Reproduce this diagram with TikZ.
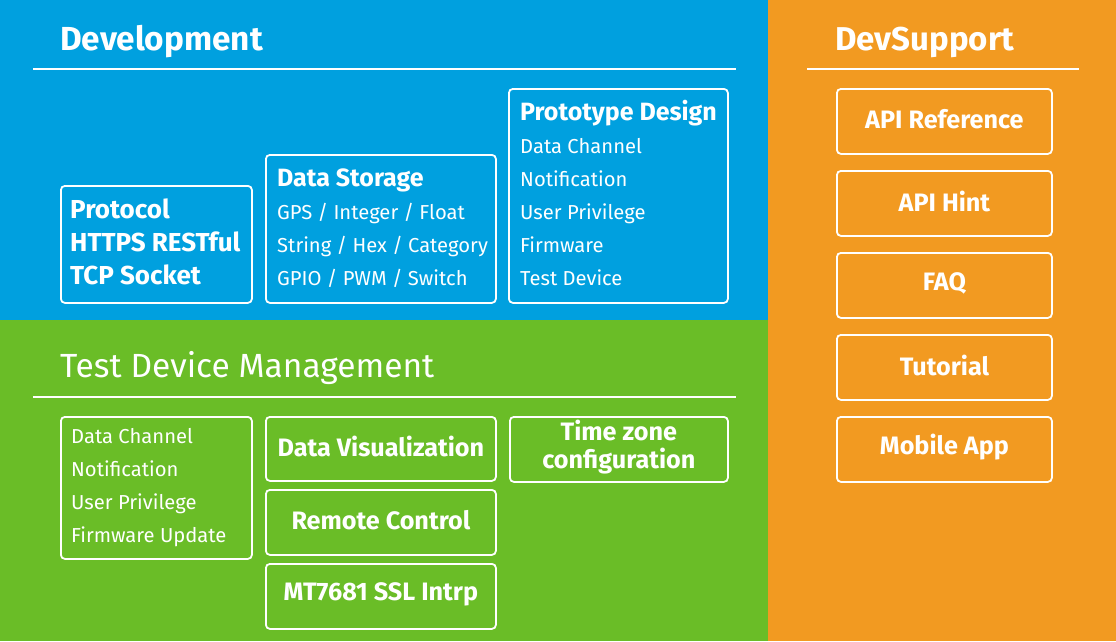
\documentclass[tikz,border=0pt]{standalone}
\usepackage{fontspec}
\setmainfont{Fira Sans}
\definecolor{devblue}{HTML}{00A0DF}
\definecolor{tdmgreen}{HTML}{6ABD27}
\definecolor{suporange}{HTML}{F29A21}
\begin{document}
\begin{tikzpicture}[x=1pt,y=-1pt,
  box/.style={draw=white, line width=1.8pt, rounded corners=4pt, inner sep=0pt, anchor=north west},
  title/.style={text=white, anchor=base west, inner sep=0pt, font=\fontsize{33.3}{38}\selectfont\bfseries},
  ttl/.style={text=white, anchor=base west, inner sep=0pt, font=\fontsize{25}{30}\selectfont\bfseries},
  itm/.style={text=white, anchor=base west, inner sep=0pt, font=\fontsize{20.2}{24}\selectfont},
  ctr/.style={text=white, anchor=center, inner sep=0pt, align=center, yshift=2pt, font=\fontsize{25.2}{28}\selectfont\bfseries},
  rule/.style={draw=white, line width=1.6pt}]
\useasboundingbox (0,0) rectangle (1116,641);
% backgrounds
\fill[devblue] (0,0) rectangle (768,320);
\fill[tdmgreen] (0,320) rectangle (768,641);
\fill[suporange] (768,0) rectangle (1116,641);
% titles
\node[title] (devt) at (60,50) {Development};
\coordinate (devl1) at (33,69);
\coordinate (devl2) at (736,69);
\draw[rule] (devl1) -- (devl2);
\node[title, font=\fontsize{33}{38}\selectfont\bfseries] (supt) at (835,50) {DevSupport};
\coordinate (supl1) at (807,69);
\coordinate (supl2) at (1079,69);
\draw[rule] (supl1) -- (supl2);
\node[title, font=\fontsize{33.5}{38}\selectfont] (tdmt) at (60,377) {Test Device Management};
\coordinate (tdml1) at (33,397);
\coordinate (tdml2) at (736,397);
\draw[rule] (tdml1) -- (tdml2);
% Development boxes
\node[box, minimum width=191pt, minimum height=117pt] (protocol) at (60,185) {};
\node[ttl, font=\fontsize{26}{30}\selectfont\bfseries] (p1) at (70,218) {Protocol};
\node[ttl, font=\fontsize{26}{30}\selectfont\bfseries] (p2) at (70,251) {HTTPS RESTful};
\node[ttl, font=\fontsize{26}{30}\selectfont\bfseries] (p3) at (70,284) {TCP Socket};
\node[box, minimum width=230pt, minimum height=148pt] (storage) at (265,154) {};
\node[ttl] (s0) at (277,186) {Data Storage};
\node[itm] (s1) at (277,219) {GPS / Integer / Float};
\node[itm] (s2) at (277,252) {String / Hex / Category};
\node[itm] (s3) at (277,285) {GPIO / PWM / Switch};
\node[box, minimum width=219pt, minimum height=214pt] (proto) at (508,88) {};
\node[ttl] (d0) at (520,120) {Prototype Design};
\node[itm] (d1) at (520,153) {Data Channel};
\node[itm] (d2) at (520,186) {Notification};
\node[itm] (d3) at (520,219) {User Privilege};
\node[itm] (d4) at (520,252) {Firmware};
\node[itm] (d5) at (520,285) {Test Device};
% Test device management boxes
\node[box, minimum width=191pt, minimum height=142pt] (tdlist) at (60,416) {};
\node[itm] (t1) at (71,443) {Data Channel};
\node[itm] (t2) at (71,476) {Notification};
\node[itm] (t3) at (71,509) {User Privilege};
\node[itm] (t4) at (71,542) {Firmware Update};
\node[box, minimum width=230pt, minimum height=64pt] (dvis) at (265,416) {};
\node[ctr] (dvist) at (dvis.center) {Data Visualization};
\node[box, minimum width=230pt, minimum height=65pt] (rc) at (265,489) {};
\node[ctr] (rct) at (rc.center) {Remote Control};
\node[box, minimum width=230pt, minimum height=65pt] (mt) at (265,563) {};
\node[ctr] (mtt) at (mt.center) {MT7681 SSL Intrp};
\node[box, minimum width=218pt, minimum height=65pt] (tz) at (509,416) {};
\node[ctr] (tzt) at (tz.center) {Time zone\\configuration};
% DevSupport boxes
\node[box, minimum width=215pt, minimum height=65pt] (apiref) at (836,88) {};
\node[ctr] (apireft) at (apiref.center) {API Reference};
\node[box, minimum width=215pt, minimum height=65pt] (apihint) at (836,170) {};
\node[ctr] (apihintt) at (apihint.center) {API Hint};
\node[box, minimum width=215pt, minimum height=65pt] (faq) at (836,252) {};
\node[ctr] (faqt) at (faq.center) {FAQ};
\node[box, minimum width=215pt, minimum height=65pt] (tut) at (836,334) {};
\node[ctr] (tutt) at (tut.center) {Tutorial};
\node[box, minimum width=215pt, minimum height=65pt] (mob) at (836,416) {};
\node[ctr] (mobt) at (mob.center) {Mobile App};
\end{tikzpicture}
\end{document}
